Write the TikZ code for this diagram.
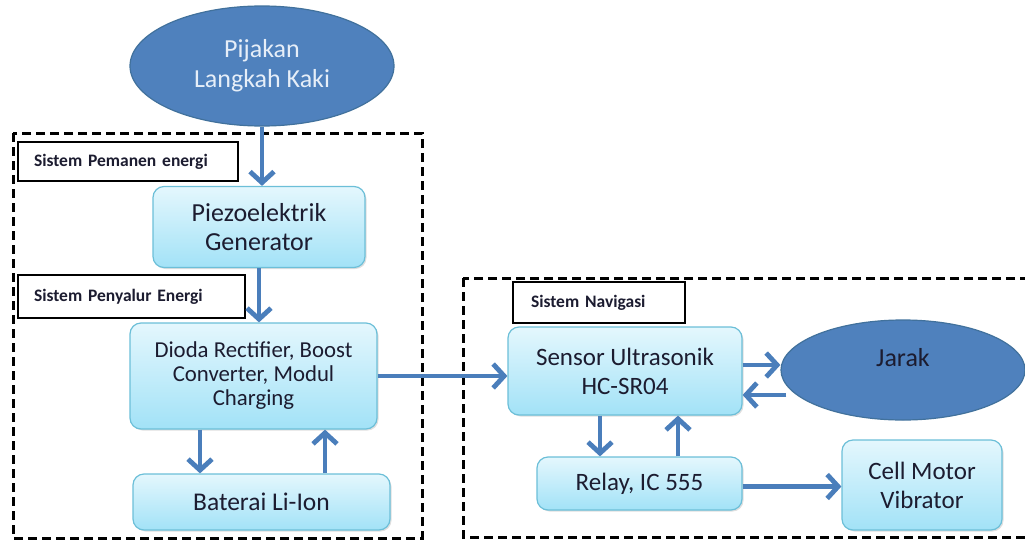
\documentclass[tikz,border=0pt]{standalone}
\usepackage{fontspec}
\setmainfont{Carlito}
\usetikzlibrary{arrows.meta,shapes.geometric,shadows}

\definecolor{ovalblue}{HTML}{4F81BD}
\definecolor{ovaledge}{HTML}{41719C}
\definecolor{flowblue}{HTML}{4A7EBB}
\definecolor{boxtop}{HTML}{E4F7FD}
\definecolor{boxbot}{HTML}{A2E2F7}
\definecolor{boxedge}{HTML}{6CBFD8}
\definecolor{ink}{HTML}{1C1C30}
\definecolor{ovaltext}{HTML}{E6EEF8}

\tikzset{
  block/.style={rectangle, rounded corners=11pt, draw=boxedge, line width=1.2pt,
    top color=boxtop, bottom color=boxbot, text=ink, align=center, inner sep=0pt,
    drop shadow={opacity=0.25, shadow xshift=1.5pt, shadow yshift=-1.5pt}},
  oval/.style={ellipse, draw=ovaledge, line width=1.2pt, fill=ovalblue,
    align=center, inner sep=0pt},
  tag/.style={rectangle, draw=black, line width=1.4pt, fill=white,
    font=\fontsize{17.5}{20}\selectfont\bfseries, text=ink, align=left,
    inner xsep=16pt, inner ysep=0pt},
  frame/.style={draw=black, line width=3pt, dash pattern=on 9pt off 5pt},
  flow/.style={draw=flowblue, line width=4.8pt,
    -{Straight Barb[length=11pt,width=24pt]}},
}

\begin{document}
\begin{tikzpicture}[x=1pt,y=-1pt]
\useasboundingbox (0,0) rectangle (1025,541);
\clip (0,0) rectangle (1025,541);

% dashed subsystem frames
\draw[frame] (13,133) rectangle (422,538);
\draw[frame] (463,278) rectangle (1040,537);

% inputs and outputs
\node[oval, minimum width=264pt, minimum height=120pt, text=ovaltext,
  font=\fontsize{26}{30}\selectfont] (step) at (262,66) {Pijakan\\Langkah Kaki};
\node[oval, minimum width=244pt, minimum height=100pt] (jarak) at (903,370) {};
\node[text=ink, font=\fontsize{26}{28}\selectfont, inner sep=0pt]
  (jaraktext) at (903,358) {Jarak};

% processing blocks
\node[block, minimum width=212pt, minimum height=81pt,
  font=\fontsize{26}{29}\selectfont] (piezo) at (259,227) {Piezoelektrik\\Generator};
\node[block, minimum width=247pt, minimum height=106pt,
  font=\fontsize{22.8}{24}\selectfont] (dioda) at (253.5,376)
  {Dioda Rectifier, Boost\\Converter, Modul\\Charging};
\node[block, minimum width=257pt, minimum height=56pt,
  font=\fontsize{25.5}{26}\selectfont] (bat) at (261.5,502) {Baterai Li-Ion};
\node[block, minimum width=234pt, minimum height=88pt,
  font=\fontsize{25}{29}\selectfont] (sensor) at (625,371) {Sensor Ultrasonik\\HC-SR04};
\node[block, minimum width=205pt, minimum height=53pt,
  font=\fontsize{25}{26}\selectfont] (relay) at (639.5,483.5) {Relay, IC 555};
\node[block, minimum width=160pt, minimum height=90pt,
  font=\fontsize{25}{29}\selectfont] (motor) at (922,485) {Cell Motor\\Vibrator};

% subsystem labels
\node[tag, minimum width=220pt, minimum height=39pt, text width=188pt]
  (tagA) at (128,161.5) {Sistem Pemanen energi};
\node[tag, minimum width=227pt, minimum height=43pt, text width=195pt]
  (tagB) at (131.5,296.5) {Sistem Penyalur Energi};
\node[tag, minimum width=172pt, minimum height=41pt, text width=136pt, inner xsep=18pt]
  (tagC) at (599,302.5) {Sistem Navigasi};

% energy path
\draw[flow] (step.south) -- (step.south |- piezo.north);
\draw[flow] (piezo.south) -- (piezo.south |- dioda.north);
\draw[flow] ([xshift=-53.5pt]dioda.south) -- ([xshift=-61.5pt]bat.north);
\draw[flow] ([xshift=63.5pt]bat.north) -- ([xshift=71.5pt]dioda.south);
\draw[flow] (dioda.east) -- (dioda.east -| sensor.west);

% navigation path
\draw[flow] ([yshift=6pt]sensor.east) -- ([yshift=6pt]sensor.east -| jarak.west);
\draw[flow] ([yshift=-24pt,xshift=6pt]sensor.east -| jarak.west) -- ([yshift=-24pt]sensor.east);
\draw[flow] ([xshift=-25pt]sensor.south) -- ([xshift=-39.5pt]relay.north);
\draw[flow] ([xshift=38.5pt]relay.north) -- ([xshift=53pt]sensor.south);
\draw[flow] ([yshift=-3pt]relay.east) -- ([yshift=-3pt]relay.east -| motor.west);
\end{tikzpicture}
\end{document}
